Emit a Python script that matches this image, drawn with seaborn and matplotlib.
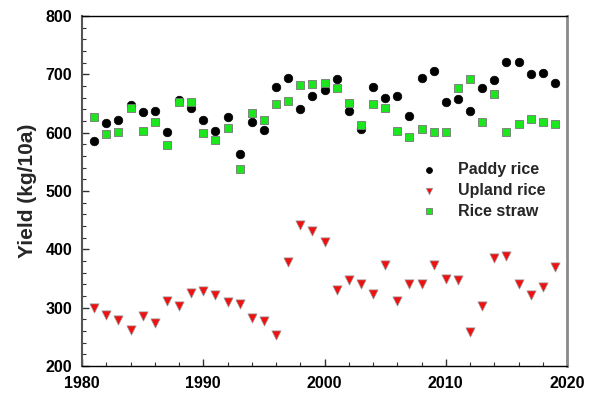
import matplotlib
matplotlib.use("Agg")
import matplotlib.pyplot as plt
from matplotlib.ticker import MultipleLocator
import seaborn as sns
import pandas as pd

years = list(range(1981, 2020))
paddy = [586, 617, 621, 648, 635, 637, 601, 656, 643, 621, 603, 627, 563, 618,
         604, 678, 694, 641, 663, 674, 692, 638, 607, 678, 660, 663, 628, 693,
         705, 652, 658, 637, 676, 691, 721, 721, 700, 703, 686]
upland = [300, 288, 279, 262, 285, 273, 311, 303, 326, 328, 321, 309, 307, 282,
          277, 254, 378, 442, 431, 412, 330, 347, 341, 323, 373, 312, 340, 340,
          374, 350, 348, 259, 303, 385, 388, 341, 322, 336, 369]
straw = [627, 597, 601, 642, 603, 619, 579, 653, 652, 599, 587, 608, 537, 634,
         621, 650, 655, 682, 684, 686, 676, 651, 613, 649, 642, 603, 593, 607,
         601, 602, 676, 692, 619, 667, 602, 615, 624, 619, 615]

df = pd.DataFrame({"Year": years, "Paddy rice": paddy,
                   "Upland rice": upland, "Rice straw": straw})

sns.set_style("white")
plt.rcParams["font.family"] = ["Liberation Sans", "DejaVu Sans"]
plt.rcParams["font.weight"] = "bold"

fig = plt.figure(figsize=(5.9, 3.97), dpi=100)
ax = fig.add_axes([82/590, 1-366/397, (567-82)/590, (366-16)/397])

sns.scatterplot(data=df, x="Year", y="Paddy rice", ax=ax, marker="o",
                color="black", edgecolor="black", s=38, linewidth=0.5,
                label="Paddy rice", zorder=3)
sns.scatterplot(data=df, x="Year", y="Upland rice", ax=ax, marker="v",
                color="#ee1111", edgecolor="#999999", s=44, linewidth=0.5,
                label="Upland rice", zorder=3)
sns.scatterplot(data=df, x="Year", y="Rice straw", ax=ax, marker="s",
                color="#1ee61e", edgecolor="#777777", s=30, linewidth=0.6,
                label="Rice straw", zorder=4)

ax.set_xlim(1980, 2020)
ax.set_ylim(200, 800)
ax.xaxis.set_major_locator(MultipleLocator(10))
ax.xaxis.set_minor_locator(MultipleLocator(2))
ax.yaxis.set_major_locator(MultipleLocator(100))
ax.yaxis.set_minor_locator(MultipleLocator(20))
ax.tick_params(axis="both", which="both", direction="in", colors="#333333",
               labelcolor="black", labelsize=11.5)
ax.tick_params(axis="both", which="major", length=5, width=1)
ax.tick_params(axis="both", which="minor", length=3, width=0.8)
ax.tick_params(axis="x", which="both", bottom=True, top=False, pad=7)
ax.tick_params(axis="y", which="both", left=True, right=False, pad=7)
for lab in ax.get_xticklabels() + ax.get_yticklabels():
    lab.set_fontweight("bold")

ax.set_xlabel("")
ax.set_ylabel("Yield (kg/10a)", fontsize=15, fontweight="bold", labelpad=6)

ax.spines["left"].set_color("#555555")
ax.spines["left"].set_linewidth(1.5)
ax.spines["right"].set_color("#8a8a8a")
ax.spines["right"].set_linewidth(2.0)
ax.spines["top"].set_color("black")
ax.spines["top"].set_linewidth(1.0)
ax.spines["bottom"].set_color("black")
ax.spines["bottom"].set_linewidth(1.0)

leg = ax.legend(loc="upper left", bbox_to_anchor=(419/590, 1-162/397),
                bbox_transform=fig.transFigure, frameon=False,
                prop={"weight": "bold", "size": 11.5}, markerscale=0.7,
                handletextpad=1.25, labelspacing=0.36, handlelength=1.2,
                borderaxespad=0, borderpad=0)

fig.savefig("out.png", dpi=100)
